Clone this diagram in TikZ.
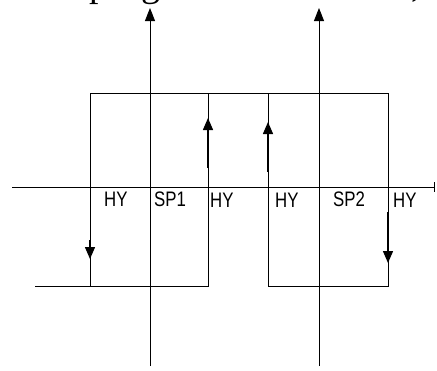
\documentclass[tikz,border=0pt]{standalone}
\usepackage{fontspec}
\setmainfont{Liberation Serif}
\setsansfont{Liberation Sans}
\usetikzlibrary{arrows.meta}
\begin{document}
\begin{tikzpicture}[x=1pt,y=-1pt,
  ln/.style={line width=0.9pt, black},
  arr/.style={line width=1.4pt, -{Triangle[width=10pt,length=12pt]}},
  lbl/.style={font=\sffamily\fontsize{21}{21}\selectfont, inner sep=0pt, anchor=base west},
  toptext/.style={font=\fontsize{38}{38}\selectfont, inner sep=0pt, anchor=base west}]
\useasboundingbox (0,0) rectangle (437,370);
\begin{scope}
\clip (0,0) rectangle (437,370);
\node[toptext] (tp) at (89,-4) {p};
\node[toptext] (tg) at (141,-4) {g};
\node[toptext] (tc) at (411,-4) {,};
\end{scope}
% coordinates
\coordinate (a1b) at (150,366);
\coordinate (a1t) at (150,8);
\coordinate (a2b) at (319,366);
\coordinate (a2t) at (319,8);
\coordinate (xl) at (12,187);
\coordinate (xr) at (435,187);
\coordinate (tl) at (90,93);
\coordinate (tr) at (388,93);
\coordinate (l1) at (35,286);
\coordinate (l2) at (90,286);
\coordinate (l3) at (208,286);
\coordinate (l4) at (208,93);
\coordinate (r1) at (268,93);
\coordinate (r2) at (268,286);
\coordinate (r3) at (388,286);
% axes
\draw[ln, -{Triangle[width=10pt,length=13pt]}] (a1b) -- (a1t);
\draw[ln, -{Triangle[width=10pt,length=13pt]}] (a2b) -- (a2t);
\draw[ln, -{Bar[width=10pt]}] (xl) -- (xr);
% loops
\draw[ln] (l1) -- (l3) -- (l4);
\draw[ln] (l2) -- (tl) -- (tr) -- (r3) -- (r2) -- (r1);
% direction arrows
\coordinate (d1s) at (90,240); \coordinate (d1e) at (90,259);
\coordinate (u1s) at (208,168); \coordinate (u1e) at (208,118);
\coordinate (u2s) at (268,172); \coordinate (u2e) at (268,122);
\coordinate (d2s) at (388,212); \coordinate (d2e) at (388,263);
\draw[arr] (d1s) -- (d1e);
\draw[arr] (u1s) -- (u1e);
\draw[arr] (u2s) -- (u2e);
\draw[arr] (d2s) -- (d2e);
% labels
\node[lbl] (hy1) at (104,206) {\scalebox{0.8}[1]{HY}};
\node[lbl] (sp1) at (154,206) {\scalebox{0.8}[1]{SP1}};
\node[lbl] (hy2) at (210,207) {\scalebox{0.8}[1]{HY}};
\node[lbl] (hy3) at (275,207) {\scalebox{0.8}[1]{HY}};
\node[lbl] (sp2) at (333,206) {\scalebox{0.8}[1]{SP2}};
\node[lbl] (hy4) at (393,207) {\scalebox{0.8}[1]{HY}};
\end{tikzpicture}
\end{document}
